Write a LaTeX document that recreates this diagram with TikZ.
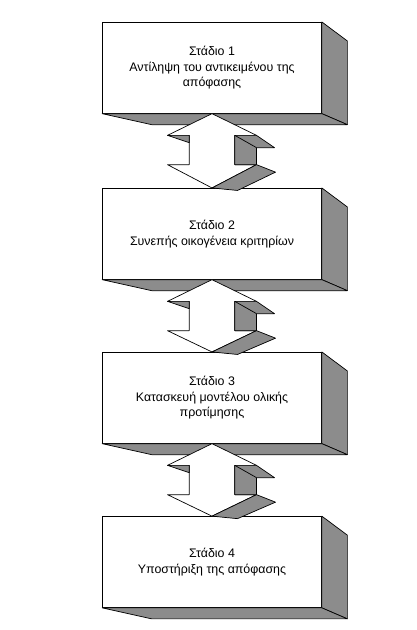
\documentclass[tikz,border=0pt]{standalone}
\usepackage{fontspec}
\setmainfont{Liberation Sans}
\usetikzlibrary{calc}
\definecolor{shade}{RGB}{140,140,140}
\tikzset{
  stagebox/.style={draw=black, line width=0.7pt, fill=white, inner sep=0pt,
    minimum width=219pt, minimum height=91pt, align=center,
    font=\fontsize{12.4}{15.8}\selectfont},
  face/.style={draw=black, line width=0.7pt, fill=shade, line join=round},
  arrowfront/.style={draw=black, line width=0.7pt, fill=white, line join=round}
}
\newcommand{\boxfaces}[1]{%
  \draw[face] (#1.north east) -- ++(25.5,19) -- ($(#1.south east)+(25.5,11)$) -- (#1.south east) -- cycle;
  \draw[face] (#1.south west) -- (#1.south east) -- ($(#1.south east)+(25.5,11)$) -- ($(#1.south west)+(49.5,11)$) -- cycle;
}
\newcommand{\dblarrow}[2]{%
  \draw[arrowfront] (#1.south) -- ($(#1.south)+(44.5,21.7)$) -- ($(#1.south)+(22.8,21.7)$)
    -- ($(#1.south)+(22.8,51)$) -- ($(#1.south)+(44.5,51)$) -- (#2.north)
    -- ($(#1.south)+(-44.5,51)$) -- ($(#1.south)+(-22.8,51)$) -- ($(#1.south)+(-22.8,21.7)$)
    -- ($(#1.south)+(-44.5,21.7)$) -- cycle;
  \draw[face] ($(#1.south)+(22.8,21.7)$) -- ($(#1.south)+(44.5,21.7)$) -- ($(#1.south)+(62.5,34)$)
    -- ($(#1.south)+(44.5,34)$) -- ($(#1.south)+(44.5,51)$) -- ($(#1.south)+(22.8,51)$) -- cycle;
  \draw[line width=0.7pt] ($(#1.south)+(22.8,21.7)$) -- ($(#1.south)+(44.5,34)$);
  \draw[face] ($(#1.south)+(44.5,51)$) -- ($(#1.south)+(63.5,58.5)$) -- ($(#2.north)+(25.5,2.5)$) -- (#2.north) -- cycle;
  \draw[face] ($(#1.south)+(-44.5,21.7)$) -- ($(#1.south)+(-22.8,21.7)$) -- ($(#1.south)+(-22.8,29)$) -- cycle;
}
\begin{document}
\begin{tikzpicture}[x=1pt,y=-1pt]
\useasboundingbox (0,0) rectangle (417,630);
\fill[white] (0,0) rectangle (417,630);
\node[stagebox] (s1) at (212,67.8) {Στάδιο 1\\Αντίληψη του αντικειμένου της\\απόφασης};
\node[stagebox] (s2) at (212,233.8) {Στάδιο 2\\Συνεπής οικογένεια κριτηρίων};
\node[stagebox] (s3) at (212,397.8) {Στάδιο 3\\Κατασκευή μοντέλου ολικής\\προτίμησης};
\node[stagebox] (s4) at (212,562) {Στάδιο 4\\Υποστήριξη της απόφασης};
\boxfaces{s1}
\boxfaces{s2}
\boxfaces{s3}
\boxfaces{s4}
\dblarrow{s1}{s2}
\dblarrow{s2}{s3}
\dblarrow{s3}{s4}
\end{tikzpicture}
\end{document}
